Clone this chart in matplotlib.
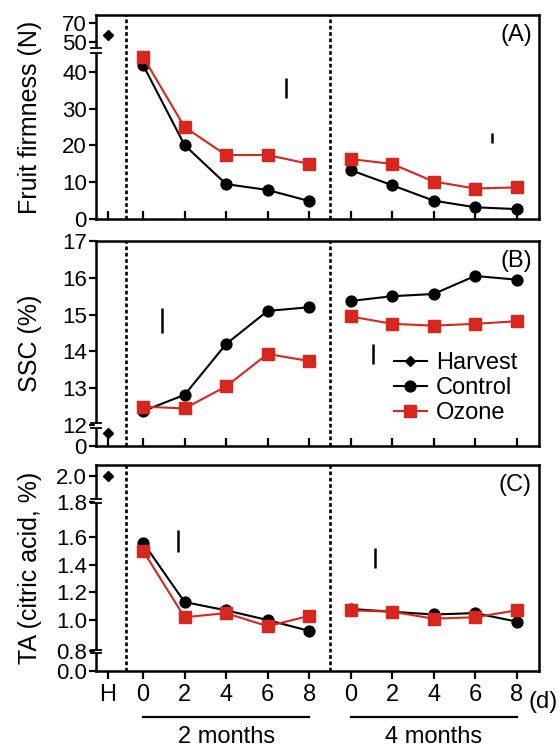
import numpy as np
import matplotlib
matplotlib.use("Agg")
import matplotlib.pyplot as plt
import matplotlib.transforms as mtransforms
from matplotlib.lines import Line2D

plt.rcParams['font.family'] = ['Liberation Sans', 'DejaVu Sans']
plt.rcParams['font.size'] = 17

RED = '#d7261e'

# storage days, two storage periods (second group drawn after the first)
days = [0, 2, 4, 6, 8]
offset = 10
harvest_x = -1.7
xlabels = ['H', '0', '2', '4', '6', '8', '0', '2', '4', '6', '8']

# (A) fruit firmness (N)
firm_harvest = 57
firm_ctrl_2m = [41.9, 20.1, 9.5, 7.9, 4.9]
firm_ozone_2m = [44.1, 25.0, 17.4, 17.4, 15.0]
firm_ctrl_4m = [13.3, 9.2, 5.0, 3.2, 2.7]
firm_ozone_4m = [16.3, 15.0, 10.2, 8.3, 8.6]
firm_lsd = [(6.9, 35.6, 2.7), (16.8, 22.0, 1.4)]  # x, centre, half length

# (B) SSC (%)
ssc_harvest = 11.65
ssc_harvest_err = 0.15
ssc_ctrl_2m = [12.38, 12.82, 14.2, 15.1, 15.2]
ssc_ozone_2m = [12.5, 12.45, 13.05, 13.93, 13.74]
ssc_ctrl_4m = [15.37, 15.5, 15.56, 16.05, 15.95]
ssc_ozone_4m = [14.95, 14.75, 14.7, 14.75, 14.82]
ssc_lsd = [(0.9, 14.85, 0.34), (11.1, 13.93, 0.26)]

# (C) TA (citric acid, %)
ta_harvest = 2.0
ta_ctrl_2m = [1.56, 1.13, 1.07, 1.0, 0.93]
ta_ozone_2m = [1.5, 1.02, 1.05, 0.96, 1.03]
ta_ctrl_4m = [1.08, 1.06, 1.04, 1.05, 0.99]
ta_ozone_4m = [1.07, 1.06, 1.01, 1.02, 1.07]
ta_lsd = [(1.7, 1.565, 0.076), (11.2, 1.45, 0.072)]

# broken y axes: value knots -> height (px) above the bottom spine
knots = {
    'A': ([0, 45.7, 50, 70, 78.4], [0, 168, 177, 196, 204]),
    'B': ([0, 11.3, 11.9, 12, 17], [0, 6, 18, 21, 205]),
    'C': ([0, 0.8, 1.0, 1.6, 1.8, 2.0, 2.09], [0, 20, 51, 134, 169, 195, 206]),
}
yticks = {
    'A': [0, 10, 20, 30, 40, 50, 70],
    'B': [0, 12, 13, 14, 15, 16, 17],
    'C': [0, 0.8, 1.0, 1.2, 1.4, 1.6, 1.8, 2.0],
}
yticklabels = {
    'A': ['0', '10', '20', '30', '40', '50', '70'],
    'B': ['0', '12', '13', '14', '15', '16', '17'],
    'C': ['0.0', '0.8', '1.0', '1.2', '1.4', '1.6', '1.8', '2.0'],
}
breaks = {'A': [(0.838, 0.814)], 'B': [(0.112, 0.088)], 'C': [(0.835, 0.816), (0.102, 0.087)]}
ylabels = {'A': 'Fruit firmness (N)', 'B': 'SSC (%)', 'C': 'TA (citric acid, %)'}


def make_scale(v, h):
    fwd = lambda y: np.interp(y, v, h)
    inv = lambda y: np.interp(y, h, v)
    return fwd, inv


fig = plt.figure(figsize=(5.6, 7.48), dpi=100)
rects = {'A': [0.1714, 0.7072, 0.7911, 0.2727],
         'B': [0.1714, 0.4037, 0.7911, 0.2741],
         'C': [0.1714, 0.1029, 0.7911, 0.2754]}
ycent = {'A': 117, 'B': 343, 'C': 568}

panels = {
    'A': (firm_harvest, firm_ctrl_2m, firm_ozone_2m, firm_ctrl_4m, firm_ozone_4m, firm_lsd),
    'B': (ssc_harvest, ssc_ctrl_2m, ssc_ozone_2m, ssc_ctrl_4m, ssc_ozone_4m, ssc_lsd),
    'C': (ta_harvest, ta_ctrl_2m, ta_ozone_2m, ta_ctrl_4m, ta_ozone_4m, ta_lsd),
}

x2 = [d + offset for d in days]
xticks = [harvest_x] + days + x2

for key in ['A', 'B', 'C']:
    ax = fig.add_axes(rects[key])
    harv, c2, o2, c4, o4, lsd = panels[key]
    v, h = knots[key]
    ax.set_yscale('function', functions=make_scale(v, h))
    ax.set_ylim(0, v[-1])
    ax.set_xlim(-2.27, 19.08)

    lw = 1.5
    ax.plot(days, c2, '-o', color='black', lw=lw, ms=7.8, zorder=3)
    ax.plot(x2, c4, '-o', color='black', lw=lw, ms=7.8, zorder=3)
    ax.plot(days, o2, '-s', color=RED, lw=lw, ms=8.3, zorder=4)
    ax.plot(x2, o4, '-s', color=RED, lw=lw, ms=8.3, zorder=4)
    if key == 'B':
        ax.errorbar([harvest_x], [harv], yerr=ssc_harvest_err, fmt='D', color='black',
                    ms=5.5, elinewidth=1.5, capsize=0, zorder=3)
    else:
        ax.plot([harvest_x], [harv], 'D', color='black', ms=5.5, zorder=3)
    for xx, cy, hl in lsd:
        ax.vlines(xx, cy - hl, cy + hl, color='black', lw=1.8)

    for xv in [-0.82, 9.0]:
        ax.axvline(xv, color='black', lw=1.9, ls=(0, (1.4, 1.0)), zorder=1)

    for s in ax.spines.values():
        s.set_linewidth(1.8)

    ax.set_yticks(yticks[key])
    ax.set_yticklabels(yticklabels[key])
    ax.yaxis.set_minor_locator(matplotlib.ticker.NullLocator())
    ax.tick_params(axis='y', direction='out', length=5, width=1.6, pad=1.5, labelsize=16)
    ax.set_xticks(xticks)
    if key == 'C':
        ax.set_xticklabels(xlabels)
        ax.tick_params(axis='x', direction='out', length=6, width=1.6, pad=3, labelsize=17)
    else:
        ax.set_xticklabels([])
        ax.tick_params(axis='x', direction='in', length=6, width=1.6)

    # axis break marks on the left spine
    for y1, y2 in breaks[key]:
        ax.plot([0, 0], [y1, y2], transform=ax.transAxes, color='white', lw=2.5,
                clip_on=False, zorder=5, solid_capstyle='butt')
        for yy in (y1, y2):
            ax.plot([-0.011, 0.011], [yy, yy], transform=ax.transAxes, color='black',
                    lw=1.3, clip_on=False, zorder=6)

    ax.text(0.984, 0.955, '(%s)' % key, transform=ax.transAxes, ha='right', va='top', fontsize=17)
    fig.text(30 / 560, 1 - ycent[key] / 748, ylabels[key], rotation=90, ha='center',
             va='center', fontsize=18)

    if key == 'B':
        handles = [Line2D([], [], color='black', marker='D', ms=5.5, lw=1.5),
                   Line2D([], [], color='black', marker='o', ms=7.8, lw=1.5),
                   Line2D([], [], color=RED, marker='s', ms=8.3, lw=1.5)]
        ax.legend(handles, ['Harvest', 'Control', 'Ozone'], loc='center left',
                  bbox_to_anchor=(0.672, 0.283), frameon=False, fontsize=17,
                  handlelength=1.4, handletextpad=0.4, labelspacing=0.12,
                  borderpad=0, borderaxespad=0)

    if key == 'C':
        trans = mtransforms.blended_transform_factory(ax.transData, ax.transAxes)
        for x0, x1, lab in [(0, 8, '2 months'), (offset, offset + 8, '4 months')]:
            ax.plot([x0, x1], [-0.223, -0.223], transform=trans, color='black', lw=1.6,
                    clip_on=False)
            ax.text((x0 + x1) / 2, -0.32, lab, transform=trans, ha='center', va='center',
                    fontsize=17)
        ax.text(18.55, -0.152, '(d)', transform=trans, ha='left', va='center', fontsize=17)

fig.savefig('out.png', dpi=100)
